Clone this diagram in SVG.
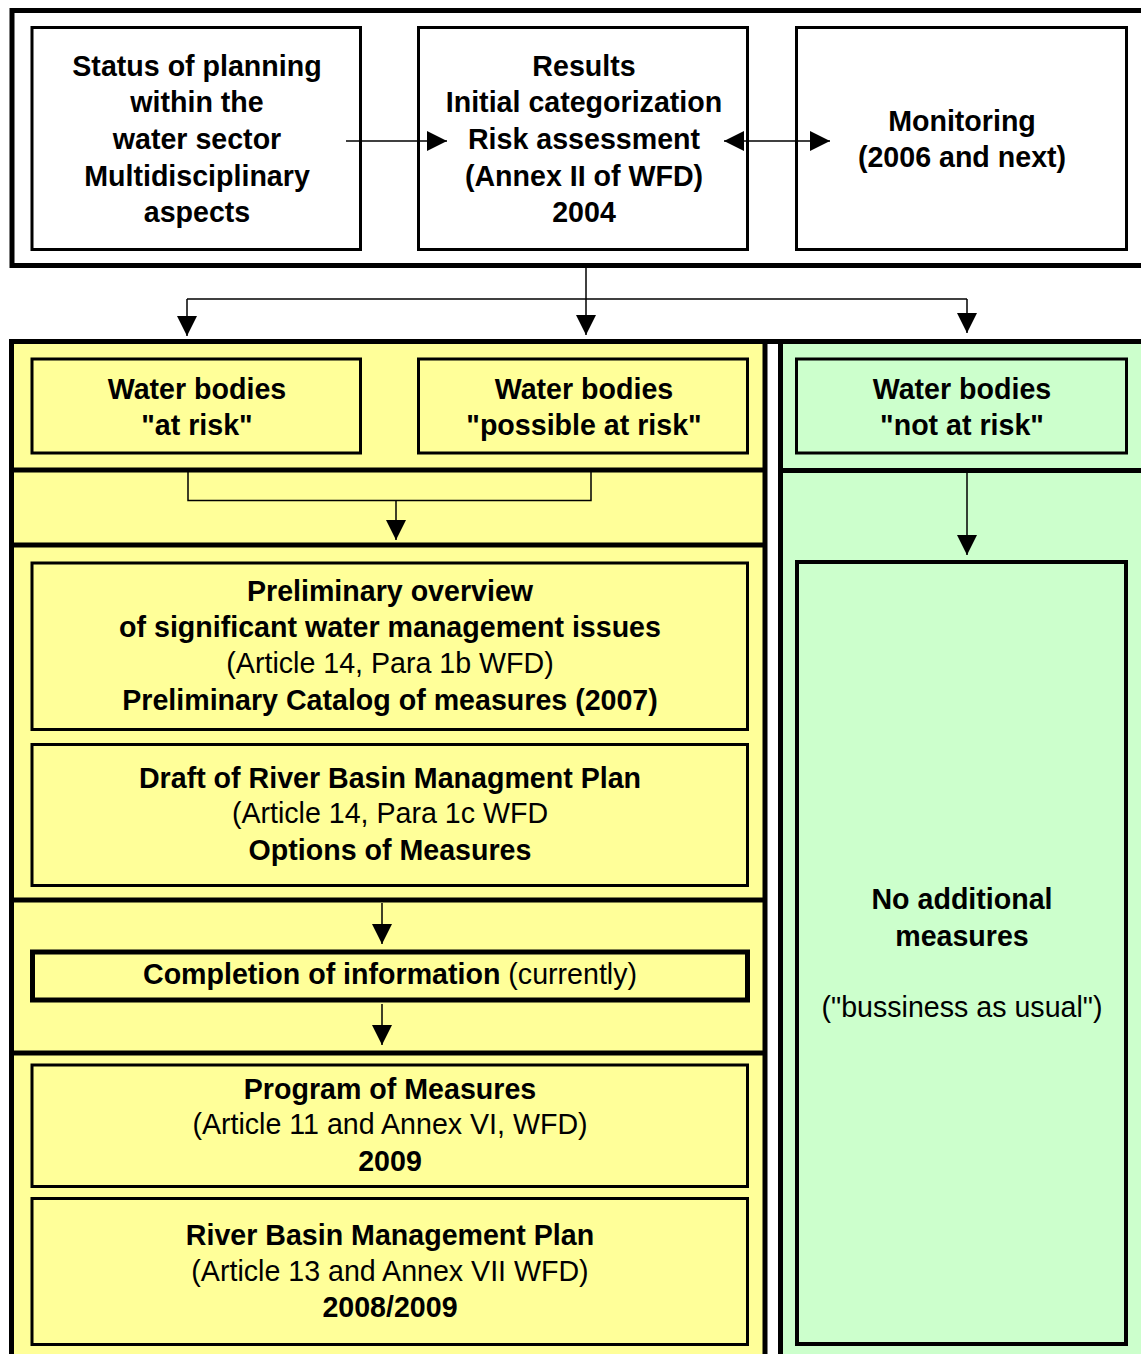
<svg xmlns="http://www.w3.org/2000/svg" width="1141" height="1354" viewBox="0 0 1141 1354">
  <defs>
    <marker id="arrow" viewBox="0 0 20 20" refX="20" refY="10" markerWidth="20" markerHeight="20" markerUnits="userSpaceOnUse" orient="auto-start-reverse">
      <path d="M0,0 L20,10 L0,20 z" fill="#000"/>
    </marker>
    <style>
      text { font-family: "Liberation Sans", Arial, sans-serif; font-size: 28.6px; fill: #000; text-anchor: middle; }
      .b { font-weight: bold; }
      .box { fill: #fff; stroke: #000; stroke-width: 3; }
      .ybox { fill: #FFFF99; stroke: #000; stroke-width: 3; }
      .gbox { fill: #CCFFCC; stroke: #000; stroke-width: 3; }
      .thick { stroke-width: 5; }
      .mid { stroke-width: 4; }
      .frame { fill: none; stroke: #000; stroke-width: 5; }
      .divider { stroke: #000; stroke-width: 5; }
      .conn { fill: none; stroke: #000; stroke-width: 1.5; }
    </style>
  </defs>

  <rect width="1141" height="1354" fill="#fff"/>

  <!-- top frame -->
  <rect class="frame" x="12" y="10.5" width="1200" height="255"/>

  <!-- lower panels -->
  <g id="panel-yellow">
    <rect x="11.5" y="341.5" width="753.5" height="1100" fill="#FFFF99" stroke="#000" stroke-width="5"/>
    <line class="divider" x1="11.5" y1="470" x2="765" y2="470"/>
    <line class="divider" x1="11.5" y1="545" x2="765" y2="545"/>
    <line class="divider" x1="11.5" y1="900" x2="765" y2="900"/>
    <line class="divider" x1="11.5" y1="1053" x2="765" y2="1053"/>
  </g>
  <g id="panel-green">
    <rect x="780.5" y="341.5" width="500" height="1100" fill="#CCFFCC" stroke="#000" stroke-width="5"/>
    <line class="divider" x1="780.5" y1="470.5" x2="1141" y2="470.5"/>
    <line class="divider" x1="765" y1="341.5" x2="780.5" y2="341.5"/>
  </g>

  <!-- top row -->
  <g id="status">
    <rect class="box" x="32" y="27.5" width="328.5" height="222"/>
    <text class="b" x="197" y="76">Status of planning</text>
    <text class="b" x="197" y="112">within the</text>
    <text class="b" x="197" y="149">water sector</text>
    <text class="b" x="197" y="186">Multidisciplinary</text>
    <text class="b" x="197" y="222">aspects</text>
  </g>
  <g id="results">
    <rect class="box" x="418.5" y="27.5" width="329" height="222"/>
    <text class="b" x="584" y="76">Results</text>
    <text class="b" x="584" y="112">Initial categorization</text>
    <text class="b" x="584" y="149">Risk assessment</text>
    <text class="b" x="584" y="186">(Annex II of WFD)</text>
    <text class="b" x="584" y="222">2004</text>
  </g>
  <g id="monitoring">
    <rect class="box" x="796.5" y="27.5" width="330" height="222"/>
    <text class="b" x="962" y="131">Monitoring</text>
    <text class="b" x="962" y="167">(2006 and next)</text>
  </g>

  <!-- risk categories -->
  <g id="at-risk">
    <rect class="ybox" x="32" y="359" width="328.5" height="94"/>
    <text class="b" x="197" y="399">Water bodies</text>
    <text class="b" x="197" y="435">"at risk"</text>
  </g>
  <g id="possible-at-risk">
    <rect class="ybox" x="418.5" y="359" width="329" height="94"/>
    <text class="b" x="584" y="399">Water bodies</text>
    <text class="b" x="584" y="435">"possible at risk"</text>
  </g>
  <g id="not-at-risk">
    <rect class="gbox" x="796.5" y="359" width="330" height="94"/>
    <text class="b" x="962" y="399">Water bodies</text>
    <text class="b" x="962" y="435">"not at risk"</text>
  </g>

  <!-- planning steps -->
  <g id="preliminary-overview">
    <rect class="ybox" x="32" y="563" width="715.5" height="166.5"/>
    <text class="b" x="390" y="601">Preliminary overview</text>
    <text class="b" x="390" y="637">of significant water management issues</text>
    <text x="390" y="673">(Article 14, Para 1b WFD)</text>
    <text class="b" x="390" y="710">Preliminary Catalog of measures (2007)</text>
  </g>
  <g id="draft-plan">
    <rect class="ybox" x="32" y="744.5" width="715.5" height="141"/>
    <text class="b" x="390" y="788">Draft of River Basin Managment Plan</text>
    <text x="390" y="823">(Article 14, Para 1c WFD</text>
    <text class="b" x="390" y="860">Options of Measures</text>
  </g>
  <g id="completion">
    <rect class="ybox thick" x="32.5" y="952" width="715" height="48"/>
    <text x="390" y="984"><tspan class="b">Completion of information</tspan> (currently)</text>
  </g>
  <g id="program-of-measures">
    <rect class="ybox" x="32" y="1065" width="715.5" height="121.5"/>
    <text class="b" x="390" y="1099">Program of Measures</text>
    <text x="390" y="1134">(Article 11 and Annex VI, WFD)</text>
    <text class="b" x="390" y="1171">2009</text>
  </g>
  <g id="river-basin-plan">
    <rect class="ybox" x="32" y="1198.5" width="715.5" height="146"/>
    <text class="b" x="390" y="1245">River Basin Management Plan</text>
    <text x="390" y="1281">(Article 13 and Annex VII WFD)</text>
    <text class="b" x="390" y="1317">2008/2009</text>
  </g>
  <g id="no-additional-measures">
    <rect class="gbox mid" x="797" y="562" width="329" height="782"/>
    <text class="b" x="962" y="909">No additional</text>
    <text class="b" x="962" y="946">measures</text>
    <text x="962" y="1017">("bussiness as usual")</text>
  </g>

  <!-- connectors -->
  <g id="connectors">
    <line class="conn" x1="346" y1="141" x2="447" y2="141" marker-end="url(#arrow)"/>
    <line class="conn" x1="724" y1="141" x2="830" y2="141" marker-start="url(#arrow)" marker-end="url(#arrow)"/>
    <line class="conn" x1="586" y1="268" x2="586" y2="335" marker-end="url(#arrow)"/>
    <polyline class="conn" points="187,299 967,299"/>
    <line class="conn" x1="187" y1="299" x2="187" y2="336" marker-end="url(#arrow)"/>
    <line class="conn" x1="967" y1="299" x2="967" y2="333" marker-end="url(#arrow)"/>
    <polyline class="conn" points="188,472 188,500.5 591,500.5 591,472"/>
    <line class="conn" x1="396" y1="500.5" x2="396" y2="540" marker-end="url(#arrow)"/>
    <line class="conn" x1="967" y1="473" x2="967" y2="555" marker-end="url(#arrow)"/>
    <line class="conn" x1="382" y1="903" x2="382" y2="944" marker-end="url(#arrow)"/>
    <line class="conn" x1="382" y1="1004" x2="382" y2="1045" marker-end="url(#arrow)"/>
  </g>
</svg>
